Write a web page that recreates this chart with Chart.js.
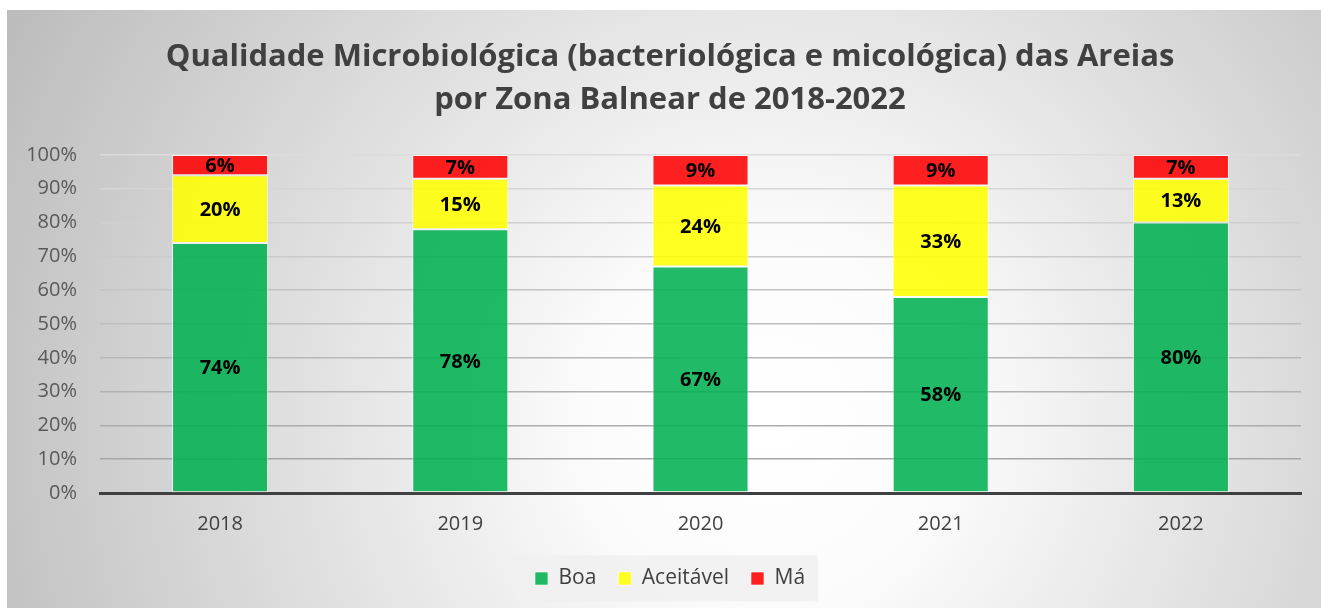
<!DOCTYPE html>
<html>
<head>
<meta charset="utf-8">
<script src="https://cdn.jsdelivr.net/npm/chart.js@4.4.1/dist/chart.umd.min.js"></script>
<style>
  html, body { margin: 0; padding: 0; background: #ffffff; }
  #wrap { width: 1321px; height: 608px; }
</style>
</head>
<body>
<div id="wrap"><canvas id="c" width="1321" height="608"></canvas></div>
<script>
const categories = ["2018", "2019", "2020", "2021", "2022"];
const boaValues = [74, 78, 67, 58, 80];
const aceitavelValues = [20, 15, 24, 33, 13];
const maValues = [6, 7, 9, 9, 7];
const seriesNames = ["Boa", "Aceitável", "Má"];
const yTickValues = [0, 10, 20, 30, 40, 50, 60, 70, 80, 90, 100];
const titleLines = ["Qualidade Microbiológica (bacteriológica e micológica) das Areias", "por Zona Balnear de 2018-2022"];

const FONT = "'Open Sans', 'DejaVu Sans', sans-serif";

const bgPlugin = {
  id: 'bg',
  afterLayout(chart) {
    // centre title and legend on the panel like the original
    if (chart.titleBlock) chart.titleBlock.left = 39;
    if (chart.legend) chart.legend.left = 39;
  },
  beforeDraw(chart) {
    const ctx = chart.ctx;
    ctx.save();
    ctx.fillStyle = '#ffffff';
    ctx.fillRect(0, 0, chart.width, chart.height);
    const g = ctx.createRadialGradient(770, 420, 0, 770, 420, 880);
    g.addColorStop(0, '#ffffff');
    g.addColorStop(0.2, '#fcfcfc');
    g.addColorStop(1, '#bababa');
    ctx.fillStyle = g;
    ctx.fillRect(7, 10, chart.width - 7, chart.height - 10);
    // legend background
    const lg = chart.legend;
    if (lg && lg.legendHitBoxes && lg.legendHitBoxes.length) {
      const hb = lg.legendHitBoxes;
      const first = hb[0], last = hb[hb.length - 1];
      const cy = first.top + first.height / 2;
      const l = first.left - 20, r = last.left + last.width + 13;
      ctx.fillStyle = 'rgba(240,240,240,0.85)';
      ctx.fillRect(l, cy - 23, r - l, 46);
    }
    ctx.restore();
  }
};

const labelPlugin = {
  id: 'vlabels',
  afterDatasetsDraw(chart) {
    const ctx = chart.ctx;
    ctx.save();
    ctx.font = "bold 20px " + FONT;
    ctx.fillStyle = '#000000';
    ctx.textAlign = 'center';
    ctx.textBaseline = 'middle';
    chart.data.datasets.forEach((ds, di) => {
      const meta = chart.getDatasetMeta(di);
      meta.data.forEach((el, i) => {
        const v = ds.data[i];
        const yc = (el.y + el.base) / 2;
        ctx.fillText(v + '%', el.x, yc + 1);
      });
    });
    ctx.restore();
  }
};

function gridColorFor(value) {
  const t = value / 100; // 0 bottom, 1 top
  const c = Math.round(160 + (220 - 160) * t);
  return `rgb(${c},${c},${c})`;
}

new Chart(document.getElementById('c'), {
  type: 'bar',
  data: {
    labels: categories,
    datasets: [
      { label: seriesNames[0], data: boaValues, backgroundColor: 'rgba(0,176,80,0.87)' },
      { label: seriesNames[1], data: aceitavelValues, backgroundColor: 'rgba(255,255,0,0.87)' },
      { label: seriesNames[2], data: maValues, backgroundColor: 'rgba(255,0,0,0.87)' }
    ].map(d => Object.assign(d, {
      borderColor: 'rgba(255,255,255,0.65)',
      borderWidth: 1,
      borderSkipped: false,
      barPercentage: 0.4,
      categoryPercentage: 1.0
    }))
  },
  options: {
    responsive: false,
    animation: false,
    devicePixelRatio: 1,
    layout: { padding: { left: 19, right: 20, top: 10, bottom: 9 } },
    plugins: {
      title: {
        display: true,
        text: titleLines,
        color: '#404040',
        font: { family: FONT, size: 31, weight: 'bold', lineHeight: 1.387 },
        padding: { top: 26, bottom: 33 }
      },
      legend: {
        position: 'bottom',
        labels: {
          color: '#404040',
          font: { family: FONT, size: 21 },
          boxWidth: 13,
          boxHeight: 13,
          padding: 22,
          generateLabels(chart) {
            return chart.data.datasets.map((ds, i) => ({
              text: ds.label,
              fillStyle: ds.backgroundColor,
              strokeStyle: 'rgba(255,255,255,0.6)',
              lineWidth: 1,
              hidden: false,
              datasetIndex: i,
              fontColor: '#404040'
            }));
          }
        }
      },
      tooltip: { enabled: false }
    },
    scales: {
      x: {
        stacked: true,
        grid: { display: false, drawTicks: false },
        border: { display: true, color: '#404040', width: 3 },
        ticks: { color: '#404040', font: { family: FONT, size: 20 }, padding: 19 },
        afterFit(scale) { scale.height = 53; }
      },
      y: {
        stacked: true,
        min: 0,
        max: 100,
        afterBuildTicks(scale) { scale.ticks = yTickValues.map(v => ({ value: v })); },
        ticks: { color: '#595959', font: { family: FONT, size: 20 }, padding: 23, callback: v => v + '%' },
        grid: {
          drawTicks: false,
          lineWidth: 1.5,
          color: ctx => gridColorFor(ctx.tick ? ctx.tick.value : 0)
        },
        border: { display: false },
        afterFit(scale) { scale.width = 81; }
      }
    }
  },
  plugins: [bgPlugin, labelPlugin]
});
</script>
</body>
</html>
